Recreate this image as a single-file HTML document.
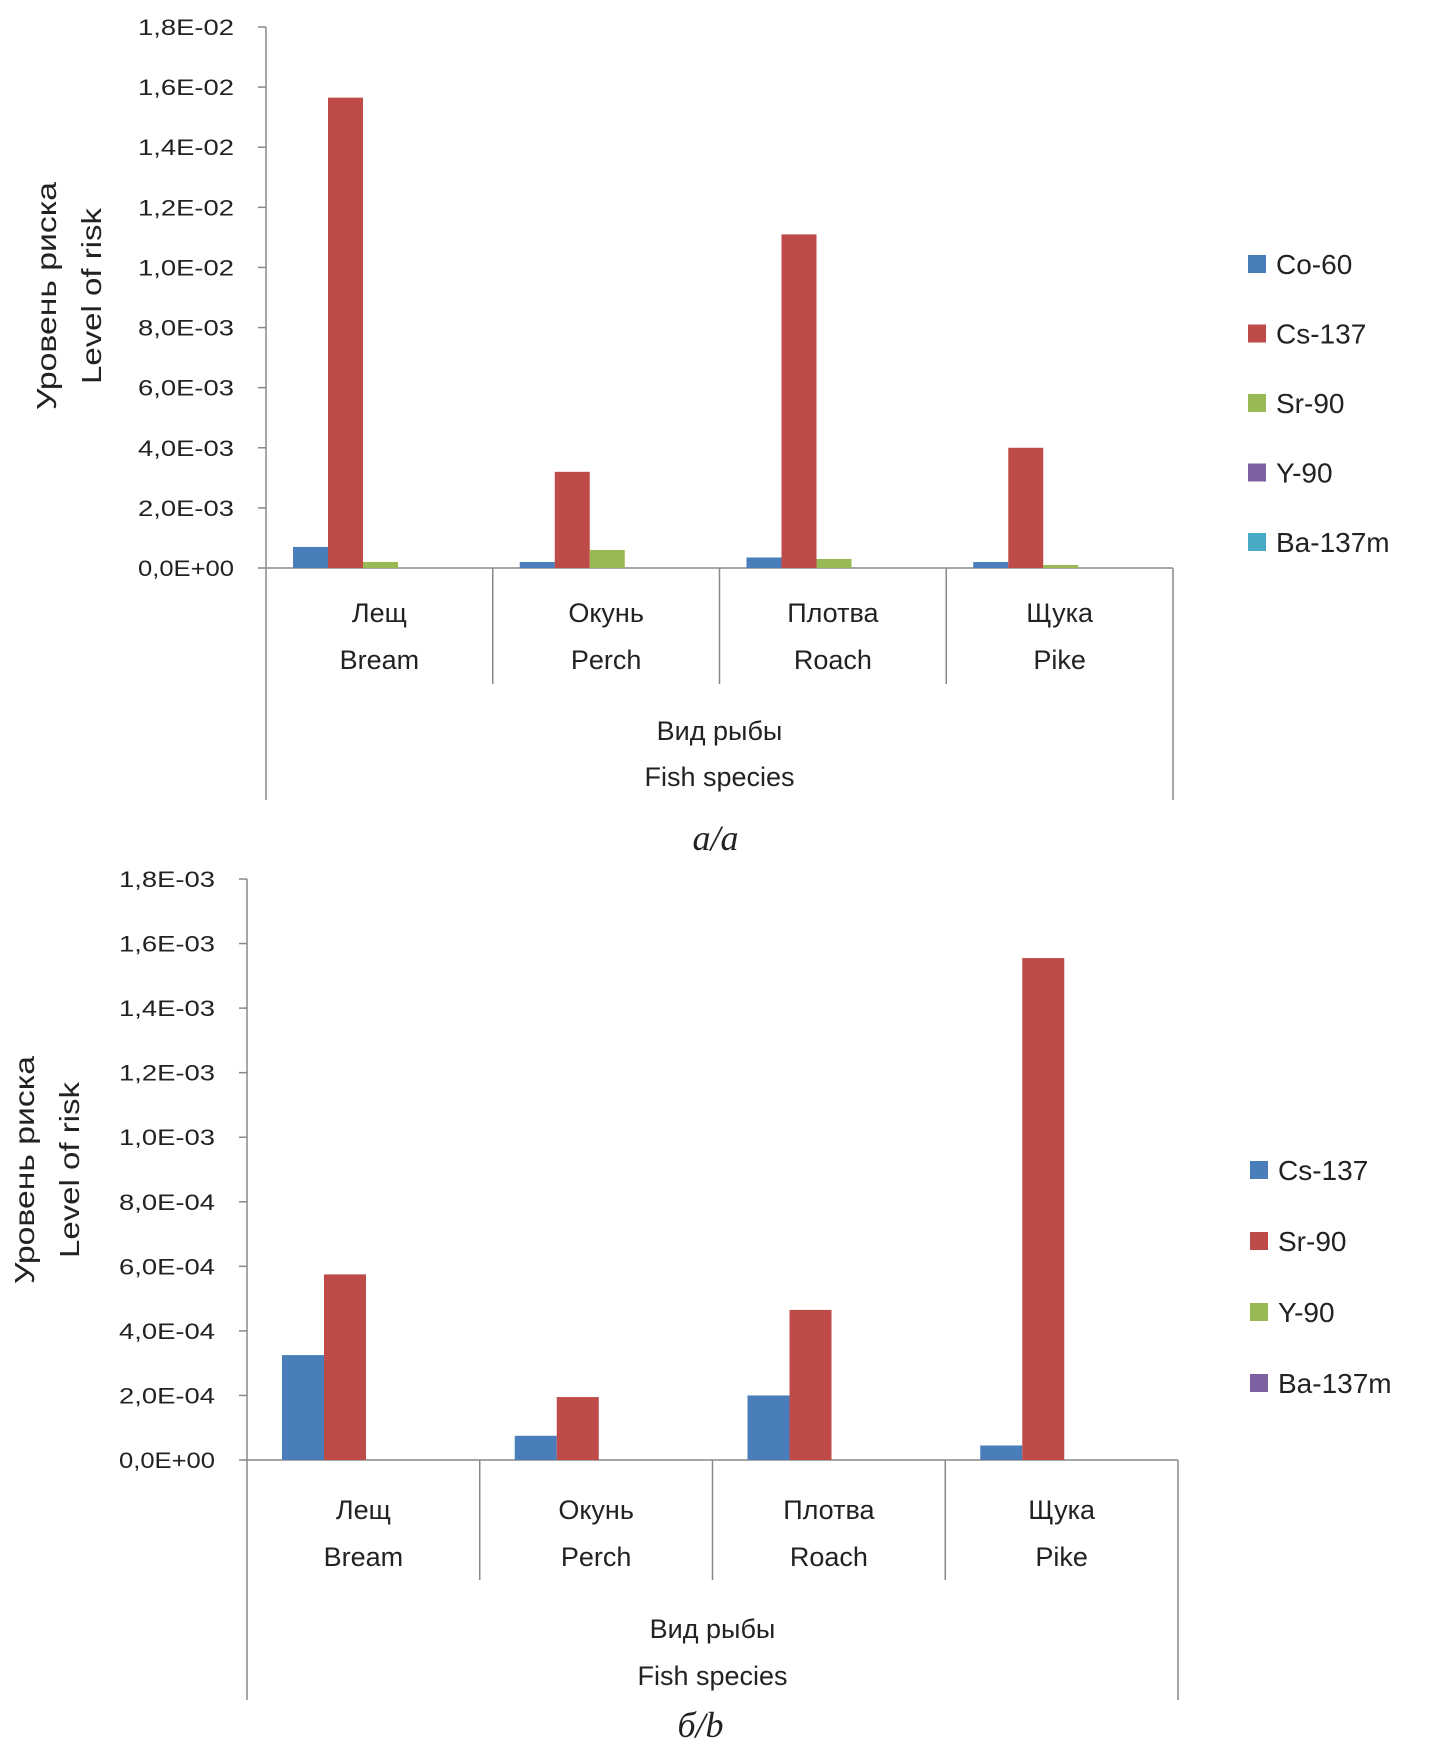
<!DOCTYPE html>
<html><head><meta charset="utf-8"><style>
html,body{margin:0;padding:0;background:#fff;}
svg{display:block;font-family:"Liberation Sans","DejaVu Sans",sans-serif;}
</style></head><body>
<svg id="svg" width="1449" height="1763" viewBox="0 0 1449 1763"></svg>
<script>
const categoriesRu = ["Лещ","Окунь","Плотва","Щука"];
const categoriesEn = ["Bream","Perch","Roach","Pike"];
const seriesA = ["Co-60","Cs-137","Sr-90","Y-90","Ba-137m"];
const colorsA = ["#4a7ebb","#be4b48","#98b954","#7d60a0","#46aac5"];
const coA = [0.0007,0.0002,0.00035,0.0002];
const csA = [0.01565,0.0032,0.0111,0.0040];
const srA = [0.0002,0.0006,0.0003,0.0001];
const yA = [0,0,0,0];
const baA = [0,0,0,0];
const ticksA = ["0,0E+00","2,0E-03","4,0E-03","6,0E-03","8,0E-03","1,0E-02","1,2E-02","1,4E-02","1,6E-02","1,8E-02"];
const seriesB = ["Cs-137","Sr-90","Y-90","Ba-137m"];
const colorsB = ["#4a7ebb","#be4b48","#98b954","#7d60a0"];
const csB = [0.000325,0.000075,0.0002,0.000045];
const srB = [0.000575,0.000195,0.000465,0.001555];
const yB = [0,0,0,0];
const baB = [0,0,0,0];
const ticksB = ["0,0E+00","2,0E-04","4,0E-04","6,0E-04","8,0E-04","1,0E-03","1,2E-03","1,4E-03","1,6E-03","1,8E-03"];

const NS="http://www.w3.org/2000/svg";
const svg=document.getElementById('svg');
function el(tag,attrs,parent,text){const e=document.createElementNS(NS,tag);for(const k in attrs)e.setAttribute(k,attrs[k]);if(text!==undefined)e.textContent=text;(parent||svg).appendChild(e);return e;}

function chart(cfg){
  const g=el('g',{});
  
  
  const y=v=>cfg.y0-(v/cfg.max)*(cfg.y0-cfg.yTop);
  const cw=(cfg.xR-cfg.xL)/4;
  const ax=el('line',{x1:cfg.xL,y1:cfg.yTop,x2:cfg.xL,y2:cfg.y0,stroke:'#888','stroke-width':1.5},g);
  
  const xa=el('line',{x1:cfg.xL,y1:cfg.y0,x2:cfg.xR,y2:cfg.y0,stroke:'#888','stroke-width':1.5},g);
  
  cfg.ticks.forEach((t,i)=>{
    const v=cfg.max*i/(cfg.ticks.length-1);const yy=y(v);
    el('line',{x1:cfg.xL-8,y1:yy,x2:cfg.xL,y2:yy,stroke:'#888','stroke-width':1.5},g);
    const tx=el('text',{x:cfg.xL-32,y:yy+8,'text-anchor':'end','font-size':22,fill:'#222',textLength:96,lengthAdjust:'spacingAndGlyphs'},g,t);
    
  });
  for(let i=0;i<=4;i++){
    const x=cfg.xL+cw*i;
    const bot=(i==0||i==4)?cfg.yBot:cfg.yMid;
    el('line',{x1:x,y1:cfg.y0,x2:x,y2:bot,stroke:'#888','stroke-width':1.5},g);
  }
  categoriesRu.forEach((c,i)=>{
    const cx=cfg.xL+cw*(i+0.5);
    const t1=el('text',{x:cx,y:cfg.labY1,'text-anchor':'middle','font-size':27,fill:'#222'},g,c);
    
    const t2=el('text',{x:cx,y:cfg.labY2,'text-anchor':'middle','font-size':27,fill:'#222'},g,categoriesEn[i]);
    
  });
  const mx=(cfg.xL+cfg.xR)/2;
  const xt1=el('text',{x:mx,y:cfg.xtY1,'text-anchor':'middle','font-size':27,fill:'#222'},g,'Вид рыбы');
  
  const xt2=el('text',{x:mx,y:cfg.xtY2,'text-anchor':'middle','font-size':27,fill:'#222'},g,'Fish species');
  
  const yt=el('text',{transform:`translate(${cfg.ytX},${cfg.ytY}) rotate(-90)`,'text-anchor':'middle','font-size':28,fill:'#222'},g);
  
  el('tspan',{x:0,dy:0,textLength:228,lengthAdjust:'spacingAndGlyphs'},yt,'Уровень риска');
  el('tspan',{x:0,dy:45,textLength:176,lengthAdjust:'spacingAndGlyphs'},yt,'Level of risk');
  cfg.data.forEach((arr,s)=>{
    arr.forEach((v,i)=>{
      const x=cfg.xL+cw*i+cfg.off+s*cfg.bw;
      const top=y(v);
      const r=el('rect',{x:x,y:top,width:cfg.bw,height:Math.max(0,cfg.y0-top),fill:cfg.colors[s]},g);
      
      
    });
  });
  cfg.series.forEach((s,i)=>{
    const ly=cfg.legY[0]+i*cfg.legStep;
    const lg=el('g',{},g);
    
    el('rect',{x:cfg.legX,y:ly-9,width:18,height:18,fill:cfg.colors[i]},lg);
    el('text',{x:cfg.legX+28,y:ly+10,'font-size':28,fill:'#222'},lg,s);
  });
  const cap=el('text',{x:mx+(cfg.capDx||0),y:cfg.capY,'text-anchor':'middle','font-size':36,'font-style':'italic','font-family':'"Liberation Serif",serif',fill:'#222'},g,cfg.cap);
  
}

chart({name:'chart-a',xL:266,xR:1173,yTop:27,y0:568,max:0.018,ticks:ticksA,yMid:684,yBot:800,
  labY1:622,labY2:669,xtY1:740,xtY2:786,ytX:56,ytY:296,off:27,bw:35,
  data:[coA,csA,srA,yA,baA],colors:colorsA,series:seriesA,legX:1248,legY:[264],legStep:69.5,cap:'a/a',capY:850,capDx:-4});
chart({name:'chart-b',xL:247,xR:1178,yTop:879,y0:1460,max:0.0018,ticks:ticksB,yMid:1580,yBot:1700,
  labY1:1519,labY2:1566,xtY1:1638,xtY2:1685,ytX:34,ytY:1170,off:35,bw:42,
  data:[csB,srB,yB,baB],colors:colorsB,series:seriesB,legX:1250,legY:[1170],legStep:71,cap:'б/b',capY:1737,capDx:-12});
</script>
</body></html>
